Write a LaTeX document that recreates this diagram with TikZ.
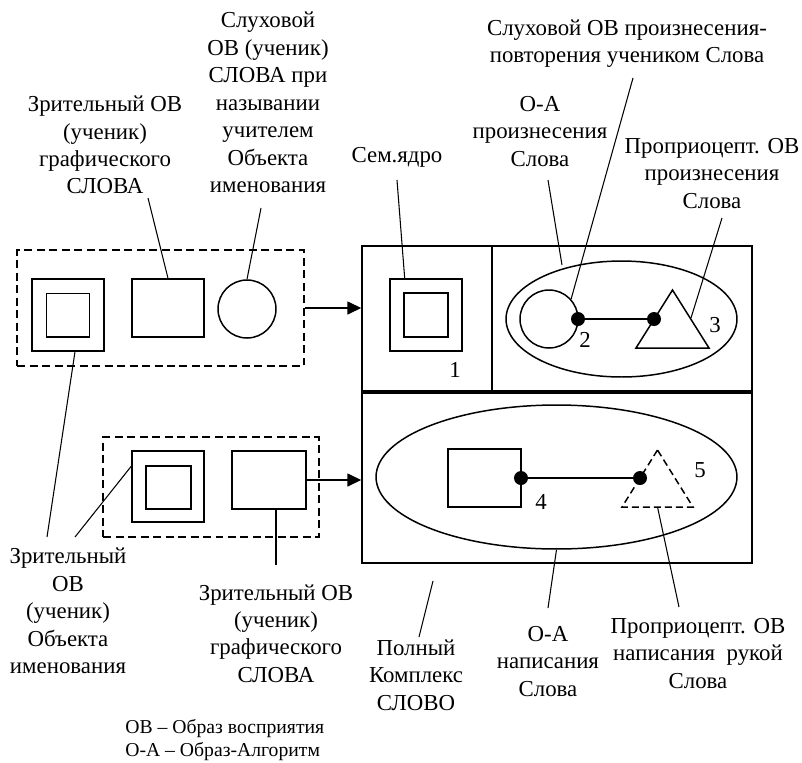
\documentclass[tikz,border=0pt]{standalone}
\usepackage{fontspec}
\setmainfont{Liberation Serif}
\usetikzlibrary{positioning, calc, arrows.meta, shapes.geometric}

\begin{document}
\begin{tikzpicture}[
  x=0.02cm, y=-0.02cm,
  %% caixas e figuras
  box/.style={rectangle, draw=black, line width=0.85pt, inner sep=0pt},
  grp/.style={rectangle, draw=black, line width=0.9pt, inner sep=0pt,
    dash pattern=on 0.16cm off 0.09cm},
  ring/.style={circle, draw=black, line width=0.85pt, inner sep=0pt,
    minimum size=1.16cm},
  oval/.style={ellipse, draw=black, line width=0.85pt, inner sep=0pt},
  fig/.style={draw=black, line width=0.85pt, line join=miter},
  dot/.style={circle, fill=black, inner sep=0pt, minimum size=0.28cm},
  %% setas e linhas de chamada
  arr/.style={-{Triangle[length=0.28cm,width=0.26cm]}, line width=0.85pt},
  lead/.style={line width=0.6pt},
  %% rótulos
  lbl/.style={align=center, inner sep=0pt,
    font=\fontsize{13}{15.6}\selectfont},
  num/.style={inner sep=0pt, font=\fontsize{13}{15.6}\selectfont},
  note/.style={align=left, anchor=west, inner sep=0pt,
    font=\fontsize{11.2}{13.6}\selectfont}
]
\useasboundingbox (0,0) rectangle (802,762);

%% ================================================================
%% GRUPO SUPERIOR (tracejado)
%% ================================================================
\node[grp, minimum width=5.74cm, minimum height=2.32cm] (grpA) at (160.5,308) {};
\node[box, minimum size=1.44cm] (viewA) at (68,315) {};
\node[box, minimum size=0.87cm] (viewAin) at (viewA) {};
\node[box, minimum width=1.44cm, minimum height=1.16cm] (graphA) at (168,308) {};
\node[ring] (hearA) at (247,309) {};

%% ================================================================
%% GRUPO INFERIOR (tracejado)
%% ================================================================
\node[grp, minimum width=4.32cm, minimum height=2.0cm] (grpB) at (211,487) {};
\node[box, minimum width=1.44cm, minimum height=1.42cm] (viewB) at (168,486.5) {};
\node[box, minimum width=0.9cm, minimum height=0.86cm] (viewBin) at (168.5,487.5) {};
\node[box, minimum width=1.48cm, minimum height=1.16cm] (graphB) at (269,480) {};

%% ================================================================
%% COMPLEXO PRINCIPAL
%% ================================================================
\node[box, minimum width=7.8cm, minimum height=6.34cm] (full) at (557,404.5) {};
\draw[line width=2.3pt] (full.west |- 0,392) -- (full.east |- 0,392);
\draw[line width=0.6pt] (492,0 |- full.north) -- (492,392);

%% célula 1 -- núcleo semântico
\node[box, minimum size=1.44cm] (core) at (426,315) {};
\node[box, minimum size=0.88cm] (corein) at (core) {};
\node[num] (n1) at (455,370) {1};

%% célula superior direita -- pronúncia
\node[oval, minimum width=4.62cm, minimum height=2.32cm] (oaSay) at (621.5,319) {};
\node[ring] (hearSay) at (549,319) {};
\coordinate (propSay) at (672.5,319);
\draw[fig] ($(propSay)+(0,-29)$) -- ++(-36.5,58) -- ++(73,0) -- cycle;
\node[dot] (d2) at (578,319) {};
\node[dot] (d3) at (654,319) {};
\draw[line width=0.85pt] (d2) -- (d3);
\node[num] (n2) at (585,340) {2};
\node[num] (n3) at (715,325) {3};

%% célula inferior -- escrita
\node[oval, minimum width=7.22cm, minimum height=2.88cm] (oaWrite) at (556.5,477) {};
\node[box, minimum width=1.46cm, minimum height=1.16cm] (graphW) at (484.5,478) {};
\coordinate (propWrite) at (657.5,478.5);
\draw[fig, dash pattern=on 0.14cm off 0.08cm]
  ($(propWrite)+(0,-28.5)$) -- ++(-35.5,57) -- ++(71,0) -- cycle;
\node[dot] (d4) at (521,478) {};
\node[dot] (d5) at (640,478) {};
\draw[line width=0.85pt] (d4) -- (d5);
\node[num] (n4) at (541,502) {4};
\node[num] (n5) at (700,470) {5};

%% setas de entrada
\draw[arr] (grpA.east) -- (full.west |- grpA.east);
\draw[arr] (graphB.east) -- (full.west |- graphB.east);

%% ================================================================
%% RÓTULOS SUPERIORES
%% ================================================================
\node[lbl] (lGraphA) at (105,145) {Зрительный ОВ\\(ученик)\\графического\\СЛОВА};
\node[lbl] (lHearA) at (268,102.5) {Слуховой\\ОВ (ученик)\\СЛОВА при\\назывании\\учителем\\Объекта\\именования};
\node[lbl] (lCore) at (397,157) {Сем.ядро};
\node[lbl] (lHearSay) at (627,43.5) {Слуховой ОВ произнесения-\\повторения учеником Слова};
\node[lbl] (lOASay) at (540,131.5) {О-А\\произнесения\\Слова};
\node[lbl] (lPropSay) at (712,173.5) {Проприоцепт. ОВ\\произнесения\\Слова};

\coordinate (cGraphA) at (148,198);
\coordinate (cHearA) at (261,208);
\coordinate (cCore) at (397,180);
\coordinate (cOASay) at (548,180);
\coordinate (cOASayEnd) at (562,265);
\coordinate (cHearSay) at (633,78);
\coordinate (cPropSay) at (722,218);
\coordinate (cPropSayEnd) at (691,318);

\draw[lead] (cGraphA) -- (graphA.north);
\draw[lead] (cHearA) -- (hearA.north);
\draw[lead] (cCore) -- ($(core.north west)!0.21!(core.north east)$);
\draw[lead] (cOASay) -- (cOASayEnd);
\draw[lead] (cHearSay) -- (hearSay.42);
\draw[lead] (cPropSay) -- (cPropSayEnd);

%% ================================================================
%% RÓTULOS INFERIORES
%% ================================================================
\node[lbl] (lViewObj) at (68,611) {Зрительный\\ОВ\\(ученик)\\Объекта\\именования};
\node[lbl] (lGraphB) at (276,633.5) {Зрительный ОВ\\(ученик)\\графического\\СЛОВА};
\node[lbl] (lFull) at (416,675) {Полный\\Комплекс\\СЛОВО};
\node[lbl] (lOAWrite) at (548,661.5) {О-А\\написания\\Слова};
\node[lbl] (lPropWrite) at (698,653.5) {Проприоцепт. ОВ\\написания~~рукой\\Слова};

\coordinate (cViewA) at (47,537);
\coordinate (cViewB) at (75,537);
\coordinate (cGraphB) at (276,565);
\coordinate (cFull) at (433,581);
\coordinate (cFullEnd) at (419,637);
\coordinate (cOAWrite) at (548,608);
\coordinate (cPropWrite) at (679,607);

\draw[lead] ($(viewA.south)+(7,0)$) -- (cViewA);
\draw[lead] ($(viewB.north west)!0.22!(viewB.south west)$) -- (cViewB);
\draw[lead] (graphB.south -| cGraphB) -- (cGraphB);
\draw[lead] (cFull) -- (cFullEnd);
\draw[lead] (oaWrite.south) -- (cOAWrite);
\draw[lead] ($(propWrite)+(0,28.5)$) -- (cPropWrite);

%% ================================================================
%% LEGENDA
%% ================================================================
\node[note] (legend) at (125,740) {ОВ -- Образ восприятия\\О-А -- Образ-Алгоритм};

\end{tikzpicture}
\end{document}
